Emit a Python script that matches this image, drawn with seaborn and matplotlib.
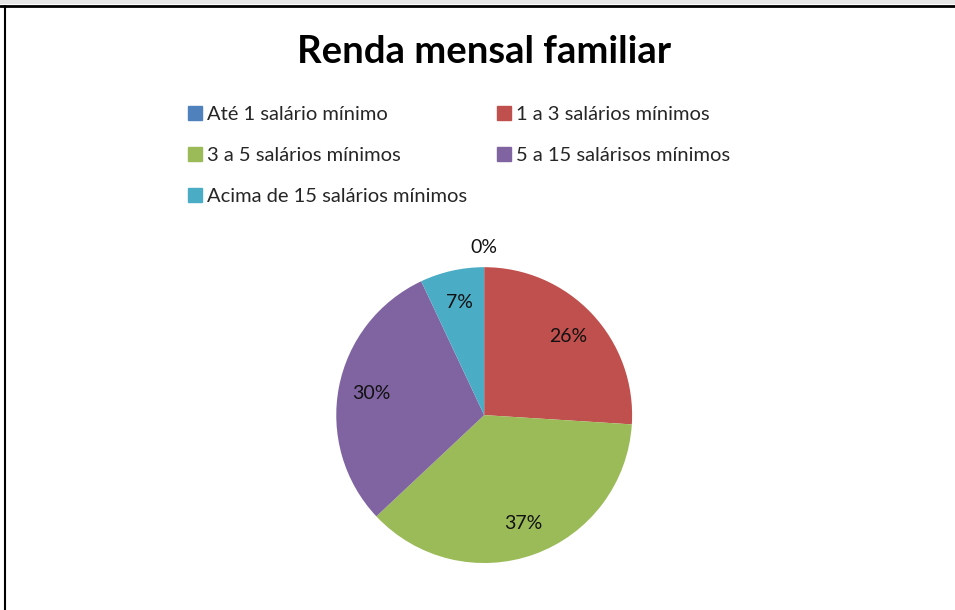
import matplotlib
matplotlib.use('Agg')
import matplotlib.pyplot as plt
import seaborn as sns
import numpy as np
from matplotlib.lines import Line2D
from matplotlib.patches import Rectangle

sns.set_theme(style='white')
plt.rcParams['font.family'] = ['Lato', 'DejaVu Sans']

# data
categories = ['Até 1 salário mínimo', '1 a 3 salários mínimos', '3 a 5 salários mínimos',
              '5 a 15 salárisos mínimos', 'Acima de 15 salários mínimos']
values = [0, 26, 37, 30, 7]
colors = ['#4F81BD', '#C0504D', '#9BBB59', '#8064A2', '#4BACC6']

fig = plt.figure(figsize=(9.55, 6.1), dpi=100)
ax = fig.add_axes([0.352, 0.077, 0.310, 0.485])

wedges, texts, autotexts = ax.pie(values, colors=colors, startangle=90, counterclock=False,
                                  autopct='%1.0f%%', pctdistance=0.78,
                                  wedgeprops=dict(linewidth=0),
                                  textprops=dict(fontsize=14, color='#111111'))
ax.set_xlim(-1, 1)
ax.set_ylim(-1, 1)
ax.set_aspect('equal')

# label of the empty slice goes outside the pie
for w, t, v in zip(wedges, autotexts, values):
    if v == 0:
        ang = np.deg2rad((w.theta1 + w.theta2) / 2)
        t.set_position((1.13 * np.cos(ang), 1.13 * np.sin(ang)))

fig.suptitle('Renda mensal familiar', x=0.507, y=0.915, va='center',
             fontsize=27.5, fontweight='bold', color='black')

# legend, filled row by row
order = [0, 2, 4, 1, 3]
handles = [Rectangle((0, 0), 1, 1, color=colors[i]) for i in order]
labels = [categories[i] for i in order]
fig.legend(handles, labels, ncol=2, loc='upper left', bbox_to_anchor=(0.186, 0.843),
           frameon=False, fontsize=14.5, handlelength=0.7, handleheight=0.7,
           handletextpad=0.25, labelspacing=1.18, columnspacing=1.5, borderpad=0)

# frame lines of the original screenshot
fig.add_artist(Rectangle((0, 1 - 4 / 610), 1, 4 / 610, transform=fig.transFigure,
                         color='#e6e6e6', lw=0))
fig.add_artist(Line2D([0, 1], [1 - 5.5 / 610, 1 - 5.5 / 610], transform=fig.transFigure,
                      color='black', lw=2))
fig.add_artist(Line2D([5 / 955, 5 / 955], [0, 1 - 5.5 / 610], transform=fig.transFigure,
                      color='black', lw=1.5))

fig.savefig('out.png', dpi=100)
